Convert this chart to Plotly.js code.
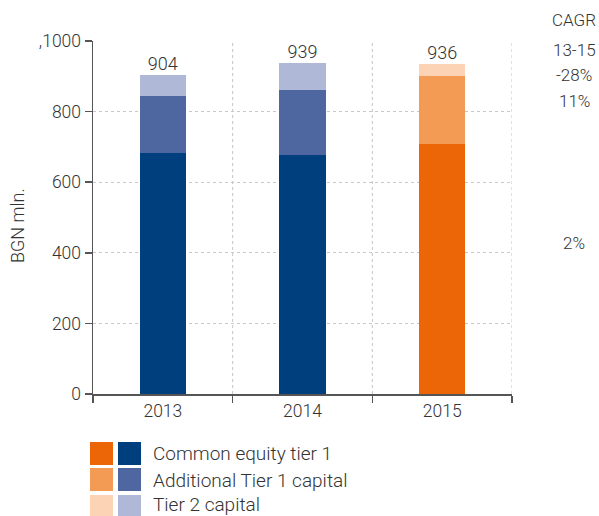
<!DOCTYPE html>
<html>
<head>
<meta charset="utf-8">
<script src="https://cdn.plot.ly/plotly-3.0.1.min.js"></script>
<style>html,body{margin:0;padding:0;background:#fff;}#chart{width:599px;height:516px;}</style>
</head>
<body>
<div id="chart"></div>
<script>
const years = ["2013", "2014", "2015"];
const cet1 = [683, 677, 708];
const at1 = [161, 184, 193];
const tier2 = [60, 78, 35];
const totals = [904, 939, 936];
const seriesNames = ["Common equity tier 1", "Additional Tier 1 capital", "Tier 2 capital"];
const blueColors = ["#003f7d", "#4f67a0", "#b0b8d8"];
const orangeColors = ["#ec6608", "#f39a55", "#fdd3b5"];
const yTickVals = [0, 200, 400, 600, 800, 1000];
const yTickText = ["0", "200", "400", "600", "800", ",1000"];
const yTitle = "BGN mln.";
const cagrLabels = ["CAGR", "13-15", "-28%", "11%", "2%"];

const FONT = "Roboto, 'Liberation Sans', Arial, sans-serif";
const TXT = "#333333";
const W = 599, H = 516, ml = 93, mr = 87, mt = 41, mb = 122;
const pw = W - ml - mr, ph = H - mt - mb;
const px = v => (v - ml) / pw;
const py = v => (H - mb - v) / ph;
const fnt = s => ({ family: FONT, size: s, color: TXT, weight: 300 });

const seriesVals = [cet1, at1, tier2];
const traces = seriesVals.map((vals, i) => ({
  type: "bar",
  x: years,
  y: vals,
  name: seriesNames[i],
  marker: { color: years.map((y, j) => j === 2 ? orangeColors[i] : blueColors[i]), line: { width: 0 } },
  hoverinfo: "y",
  showlegend: false
}));

traces.push({
  type: "scatter", mode: "text", x: years, y: totals, text: totals.map(String),
  textposition: "top center", textfont: fnt(18), hoverinfo: "skip", showlegend: false, cliponaxis: false
});

const annotations = [];
const cagrY = [20, 50, 75, 101, 243];
cagrLabels.forEach((t, i) => {
  annotations.push({
    x: px(574), y: py(cagrY[i]), xref: "paper", yref: "paper", text: t, showarrow: false,
    font: fnt(17), xanchor: "center", yanchor: "middle"
  });
});

annotations.push({
  x: px(17), y: py(226), xref: "paper", yref: "paper", text: yTitle, showarrow: false,
  textangle: -90, font: fnt(18), xanchor: "center", yanchor: "middle"
});

const shapes = [];
[0.5, 1.5, 2.5].forEach(xv => {
  shapes.push({ type: "line", xref: "x", yref: "paper", x0: xv, x1: xv, y0: 0, y1: 1,
    line: { color: "#c4c4c4", width: 1, dash: "dot" }, layer: "below" });
});

const legRowsTop = [442, 468, 495];
const legTextY = [453, 480, 504];
legRowsTop.forEach((top, i) => {
  shapes.push({ type: "rect", xref: "paper", yref: "paper", x0: px(90), x1: px(113), y0: py(top + 23), y1: py(top),
    fillcolor: orangeColors[i], line: { width: 0 } });
  shapes.push({ type: "rect", xref: "paper", yref: "paper", x0: px(118), x1: px(141), y0: py(top + 23), y1: py(top),
    fillcolor: blueColors[i], line: { width: 0 } });
  annotations.push({ x: px(151), y: py(legTextY[i]), xref: "paper", yref: "paper", text: seriesNames[i],
    showarrow: false, xanchor: "left", yanchor: "middle", font: fnt(19) });
});

const layout = {
  width: W, height: H,
  margin: { l: ml, r: mr, t: mt, b: mb, pad: 0 },
  paper_bgcolor: "#ffffff", plot_bgcolor: "#ffffff",
  barmode: "stack", bargap: 0.67,
  font: fnt(17),
  showlegend: false,
  xaxis: {
    type: "category", range: [-0.5, 2.5], showline: true, linecolor: "#555", linewidth: 1.5,
    ticks: "outside", tickson: "boundaries", ticklen: 7, tickcolor: "#555", tickwidth: 1.5,
    showgrid: false, zeroline: false, tickfont: fnt(17.5)
  },
  yaxis: {
    range: [0, 1000], tickvals: yTickVals, ticktext: yTickText, showline: true, linecolor: "#555", linewidth: 1.5,
    ticks: "outside", ticklen: 7, tickcolor: "#555", tickwidth: 1.5,
    showgrid: true, gridcolor: "#c8c8c8", griddash: "dot", gridwidth: 1, zeroline: false,
    tickfont: fnt(17.5)
  },
  annotations: annotations,
  shapes: shapes
};

Plotly.newPlot("chart", traces, layout, { displayModeBar: false, staticPlot: true });
</script>
</body>
</html>
